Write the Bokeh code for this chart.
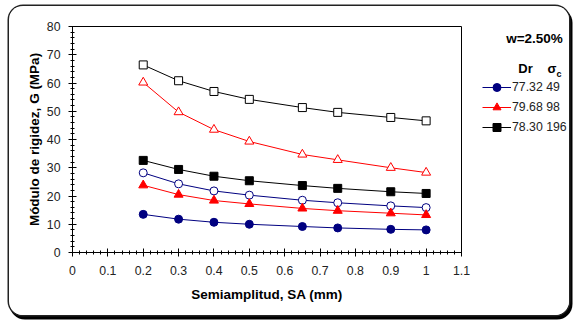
from bokeh.plotting import figure
from bokeh.layouts import row
from bokeh.models import (Range1d, SingleIntervalTicker, CustomJSTickFormatter,
                          Legend, LegendItem, Label)
from bokeh.embed import file_html
from bokeh.resources import INLINE

# ---- data ----
sa = [0.2, 0.3, 0.4, 0.5, 0.65, 0.75, 0.9, 1.0]
g_49_filled = [13.5, 11.8, 10.7, 10.0, 9.2, 8.7, 8.2, 8.0]
g_98_filled = [23.8, 20.5, 18.4, 17.2, 15.6, 14.8, 13.9, 13.3]
g_196_filled = [32.6, 29.4, 27.0, 25.4, 23.7, 22.7, 21.5, 20.9]
g_49_open = [28.2, 24.3, 21.8, 20.3, 18.5, 17.6, 16.5, 15.9]
g_98_open = [60.2, 49.7, 43.5, 39.3, 34.7, 32.8, 30.0, 28.3]
g_196_open = [66.4, 60.8, 57.0, 54.2, 51.3, 49.6, 47.8, 46.6]
legend_labels = ["77.32 49", "79.68 98", "78.30 196"]

FONT = "Liberation Sans"
NAVY = "#000080"
RED = "#FF0000"
BLACK = "#000000"

OX, OY = 9, 6          # page offset of the chart box
W_MAIN, W_LEG, H = 462, 98, 309
FRAME_TOP, FRAME_BOTTOM = 26, 252

p = figure(width=W_MAIN, height=H, output_backend="svg", toolbar_location=None,
           x_range=Range1d(0, 1.1), y_range=Range1d(0, 80),
           min_border_left=72 - OX, min_border_right=W_MAIN - (461 - OX),
           min_border_top=FRAME_TOP - OY, min_border_bottom=OY + H - FRAME_BOTTOM)
p.xgrid.visible = False
p.ygrid.visible = False
p.outline_line_color = "black"
p.outline_line_width = 1
p.background_fill_color = "white"
p.border_fill_color = "white"

for ax in (p.xaxis[0], p.yaxis[0]):
    ax.axis_line_color = "black"
    ax.major_tick_line_color = "black"
    ax.minor_tick_line_color = "black"
    ax.major_tick_in = 4
    ax.major_tick_out = 4
    ax.minor_tick_in = 2
    ax.minor_tick_out = 2
    ax.major_label_text_font = FONT
    ax.major_label_text_font_size = "12.3px"
    ax.major_label_text_color = "#222"
    ax.axis_label_text_font = FONT
    ax.axis_label_text_font_size = "13.5px"
    ax.axis_label_text_font_style = "bold"
    ax.axis_label_text_color = "black"

p.xaxis.ticker = SingleIntervalTicker(interval=0.1, num_minor_ticks=5)
p.xaxis.formatter = CustomJSTickFormatter(code="return String(Math.round(tick*10)/10)")
p.yaxis.ticker = SingleIntervalTicker(interval=10, num_minor_ticks=5)
p.xaxis.axis_label = "Semiamplitud, SA (mm)"
p.yaxis.axis_label = "Módulo de rigidez, G (MPa)"
p.xaxis.major_label_standoff = 9
p.xaxis.axis_label_standoff = 9
p.yaxis.major_label_standoff = 8
p.yaxis.axis_label_standoff = 2

# open-marker series (not in legend)
p.line(sa, g_196_open, line_color=BLACK, line_width=1)
p.scatter(sa, g_196_open, marker="square", size=8, line_color=BLACK,
          fill_color="white", line_width=1)
p.line(sa, g_98_open, line_color=RED, line_width=1)
p.scatter(sa, g_98_open, marker="triangle", size=9, line_color=RED,
          fill_color="white", line_width=1)
p.line(sa, g_49_open, line_color=NAVY, line_width=1)
p.scatter(sa, g_49_open, marker="circle", size=8, line_color=NAVY,
          fill_color="white", line_width=1)

# filled series
specs = [(g_49_filled, NAVY, "circle", 8), (g_98_filled, RED, "triangle", 9),
         (g_196_filled, BLACK, "square", 8)]
for vals, col, mk, sz in specs:
    p.line(sa, vals, line_color=col, line_width=1)
    p.scatter(sa, vals, marker=mk, size=sz, line_color=col, fill_color=col)

# ---- legend panel (its frame is aligned with the main frame; coords = page px) ----
q = figure(width=W_LEG, height=H, output_backend="svg", toolbar_location=None,
           x_range=Range1d(OX + W_MAIN, OX + W_MAIN + W_LEG),
           y_range=Range1d(FRAME_BOTTOM, FRAME_TOP),
           x_axis_type=None, y_axis_type=None,
           min_border=0, min_border_left=0, min_border_right=0,
           min_border_top=FRAME_TOP - OY, min_border_bottom=OY + H - FRAME_BOTTOM)
q.xgrid.visible = False
q.ygrid.visible = False
q.outline_line_color = None
q.background_fill_color = "white"
q.border_fill_color = "white"

items = []
for (vals, col, mk, sz), lab in zip(specs, legend_labels):
    # same series; they fall outside this panel's ranges, so only the legend shows
    l = q.line(sa, vals, line_color=col, line_width=1)
    s = q.scatter(sa, vals, marker=mk, size=sz, line_color=col, fill_color=col)
    items.append(LegendItem(label=lab, renderers=[l, s]))

legend = Legend(items=items, location=(482 - (OX + W_MAIN), FRAME_BOTTOM - 137),
                border_line_color=None, background_fill_color=None,
                padding=0, margin=0, spacing=0,
                glyph_width=29, glyph_height=20, label_height=20,
                label_standoff=1, label_text_font=FONT,
                label_text_font_size="12.3px", label_text_color="#222")
q.add_layout(legend, "center")

for txt, x, y, size in [("w=2.50%", 534, 38, "13.5px"),
                        ("Dr", 525, 68, "13px"),
                        ("σ", 551.5, 68, "13px"),
                        ("c", 558.5, 73, "9px")]:
    q.add_layout(Label(x=x, y=y, text=txt, text_font=FONT,
                       text_font_size=size, text_font_style="bold",
                       text_align="center", text_baseline="middle",
                       text_color="black"))

layout = row(p, q)
layout.styles = {"margin-left": f"{OX}px", "margin-top": f"{OY}px",
                 "border-radius": "14px", "overflow": "hidden",
                 "background": "white",
                 "box-shadow": "0 0 0 1.5px #222, 2px 3px 0 1.5px #000"}

open("out.html", "w").write(file_html(layout, INLINE))
